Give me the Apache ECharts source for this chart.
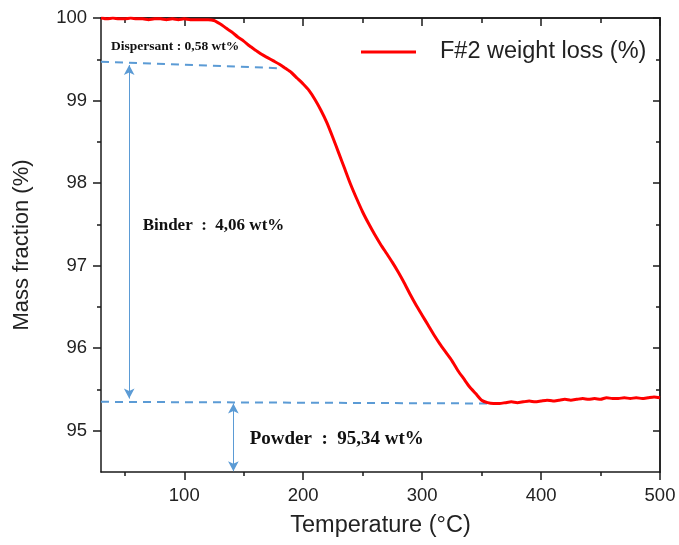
<!DOCTYPE html>
<html>
<head>
<meta charset="utf-8">
<script src="https://cdn.jsdelivr.net/npm/echarts@6/dist/echarts.min.js"></script>
<style>html,body{margin:0;padding:0;background:#fff}#c{width:679px;height:545px}</style>
</head>
<body>
<div id="c"></div>
<script>
// ---- Data ----
const temperatureC = [30,35,40,45,50,55,60,65,70,75,80,85,90,95,100,105,110,115,120,125,130,135,140,145,150,155,160,165,170,175,180,185,190,195,200,205,210,215,220,225,230,235,240,245,250,255,260,265,270,275,280,285,290,295,300,305,310,315,320,325,330,335,340,345,350,355,360,365,370,375,380,385,390,395,400,405,410,415,420,425,430,435,440,445,450,455,460,465,470,475,480,485,490,495,500];
const massFraction = [100.00,99.99,100.00,99.99,99.99,100.00,99.99,99.99,99.98,99.99,99.99,99.98,99.99,99.98,99.99,99.98,99.98,99.98,99.98,99.97,99.93,99.88,99.83,99.77,99.72,99.66,99.61,99.56,99.52,99.48,99.44,99.39,99.34,99.27,99.20,99.12,99.01,98.88,98.73,98.55,98.36,98.17,97.98,97.81,97.65,97.51,97.38,97.26,97.15,97.04,96.92,96.79,96.65,96.52,96.40,96.28,96.16,96.05,95.95,95.85,95.73,95.63,95.53,95.45,95.37,95.34,95.33,95.33,95.34,95.35,95.34,95.35,95.36,95.35,95.36,95.37,95.36,95.37,95.38,95.37,95.38,95.39,95.38,95.39,95.38,95.40,95.39,95.39,95.40,95.39,95.40,95.39,95.40,95.41,95.40];
const seriesName = 'F#2 weight loss (%)';

const xMajorTicks = [100,200,300,400,500];
const xMinorTicks = [50,150,250,350,450];
const yMajorTicks = [95,96,97,98,99,100];
const yMinorTicks = [95.5,96.5,97.5,98.5,99.5];

// annotation lines: [startT, startMass, endT, endMass]
const dispersantLevel = [30, 99.47, 183, 99.39];
const powderLevel = [30, 95.35, 355, 95.33];
const binderArrow = [53.7, 99.43, 53.7, 95.39];
const powderArrow = [141.3, 95.33, 141.3, 94.51];
// annotation texts: [T, mass, text]
const dispersantText = [38.5, 99.66, 'Dispersant : 0,58 wt%'];
const binderText = [65, 97.49, 'Binder  :  4,06 wt%'];
const powderText = [155, 94.90, 'Powder  :  95,34 wt%'];

// ---- Chart ----
const chart = echarts.init(document.getElementById('c'), null, {renderer: 'canvas'});
const sans = 'Liberation Sans, Arial, sans-serif';
const serif = 'Liberation Serif, Times New Roman, serif';
const axisLine = {color: '#1a1a1a', width: 1.5};
const blue = '#5b9bd5';
const X = [30, 500], Y = [94.5, 100];
const tickFont = 18.5, titleFont = 23.5;

function xAx(pos, ticks, len, inside, labels, extra) {
  return Object.assign({
    type: 'value', min: X[0], max: X[1], position: pos,
    axisLine: {show: !!labels || pos === 'top', onZero: false, lineStyle: axisLine},
    axisTick: {show: true, inside: inside, length: len, customValues: ticks, lineStyle: axisLine},
    axisLabel: labels ? {customValues: ticks, margin: 14, fontSize: tickFont, color: '#222', fontFamily: sans} : {show: false},
    splitLine: {show: false}
  }, extra || {});
}
function yAx(pos, ticks, len, inside, labels, extra) {
  return Object.assign({
    type: 'value', min: Y[0], max: Y[1], position: pos,
    axisLine: {show: !!labels || pos === 'right', onZero: false, lineStyle: axisLine},
    axisTick: {show: true, inside: inside, length: len, customValues: ticks, lineStyle: axisLine},
    axisLabel: labels ? {customValues: ticks, margin: 14, fontSize: tickFont, color: '#222', fontFamily: sans} : {show: false},
    splitLine: {show: false}
  }, extra || {});
}

const seg = (a, sym, style) => [
  {coord: [a[0], a[1]], symbol: sym, lineStyle: style},
  {coord: [a[2], a[3]], symbol: sym}
];
const txt = (t, size) => ({
  coord: [t[0], t[1]], name: t[2],
  label: {fontSize: size}
});

chart.setOption({
  backgroundColor: '#fff',
  animation: false,
  grid: {left: 101, right: 19, top: 18, bottom: 73, containLabel: false},
  legend: {
    data: [seriesName], left: 356, top: 35, icon: 'rect', itemWidth: 55, itemHeight: 3,
    textStyle: {fontSize: titleFont, color: '#222', fontFamily: sans, padding: [0, 0, 0, 19]}
  },
  xAxis: [
    xAx('bottom', xMajorTicks, 8, false, true, {
      name: 'Temperature (°C)', nameLocation: 'middle', nameGap: 42,
      nameTextStyle: {fontSize: titleFont, color: '#222', fontFamily: sans}
    }),
    xAx('bottom', xMinorTicks, 4, false, false),
    xAx('top', xMajorTicks, 8, true, false),
    xAx('top', xMinorTicks, 5, true, false)
  ],
  yAxis: [
    yAx('left', yMajorTicks, 8, false, true, {
      name: 'Mass fraction (%)', nameLocation: 'middle', nameGap: 68,
      nameTextStyle: {fontSize: 22, color: '#222', fontFamily: sans}
    }),
    yAx('left', yMinorTicks, 4, false, false),
    yAx('right', yMajorTicks, 7, true, false),
    yAx('right', yMinorTicks, 4, true, false)
  ],
  series: [
    {
      name: 'annotations', type: 'line', data: [], xAxisIndex: 0, yAxisIndex: 0, z: 1,
      markLine: {
        silent: true, animation: false,
        label: {show: false},
        symbolSize: [8, 10],
        lineStyle: {color: blue, width: 1, type: 'solid'},
        data: [
          seg(dispersantLevel, 'none', {type: [8, 6], width: 2, color: blue}),
          seg(powderLevel, 'none', {type: [8, 6], width: 2, color: blue}),
          seg(binderArrow, 'arrow', {type: 'solid', width: 1, color: blue}),
          seg(powderArrow, 'arrow', {type: 'solid', width: 1, color: blue})
        ]
      },
      markPoint: {
        silent: true, animation: false,
        symbol: 'circle', symbolSize: 0,
        itemStyle: {color: 'transparent'},
        label: {show: true, position: 'right', distance: 0, formatter: '{b}', color: '#111',
          fontFamily: serif, fontWeight: 'bold'},
        data: [txt(dispersantText, 13.5), txt(binderText, 17), txt(powderText, 19)]
      }
    },
    {
      name: seriesName, type: 'line', z: 5,
      data: temperatureC.map((t, i) => [t, massFraction[i]]),
      showSymbol: false, symbol: 'none', smooth: 0.2,
      color: '#ff0000',
      lineStyle: {color: '#ff0000', width: 3}
    }
  ]
});
</script>
</body>
</html>
